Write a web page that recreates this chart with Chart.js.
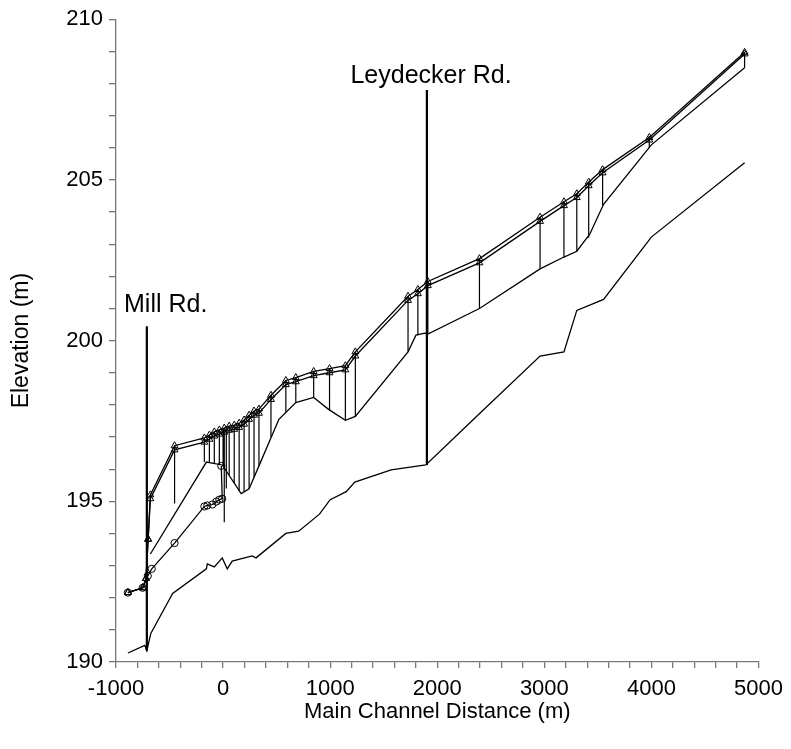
<!DOCTYPE html>
<html>
<head>
<meta charset="utf-8">
<script src="https://cdn.jsdelivr.net/npm/chart.js@4.4.1/dist/chart.umd.min.js"></script>
<style>
  html, body { margin: 0; padding: 0; background: #fff; }
  #wrap { width: 791px; height: 749px; position: relative; }
</style>
</head>
<body>
<div id="wrap"><canvas id="c" width="791" height="749"></canvas></div>
<script>
// ---- data ----
// Channel invert (thalweg)
const bedX = [-889, -731, -712, -675, -471, -156, -147, -82, -8, 39, 85, 271, 308, 586, 706, 900, 1000, 1150, 1230, 1569, 1893, 2376, 2960, 3183, 3303, 3553, 3999, 4870];
const bedY = [190.28, 190.52, 190.35, 190.89, 192.13, 192.9, 193.05, 192.96, 193.24, 192.9, 193.14, 193.3, 193.24, 194.0, 194.07, 194.6, 195.05, 195.3, 195.6, 195.98, 196.13, 197.67, 199.52, 199.65, 200.94, 201.28, 203.22, 205.53];

// Middle line (bank)
const bankX = [-679, -156, -8, 169, 243, 363, 521, 679, 846, 985, 1142, 1235, 1727, 1801, 1884, 1912, 2394, 2960, 3183, 3303, 3424, 3553, 3999, 4870];
const bankY = [193.36, 196.22, 196.13, 195.24, 195.39, 196.32, 197.55, 198.07, 198.23, 197.86, 197.52, 197.64, 199.65, 200.17, 200.23, 200.2, 201.0, 202.23, 202.6, 202.78, 203.31, 204.24, 206.09, 208.49];

// Water surface profiles (triangles)
const wsX = [-889, -750, -720, -700, -679, -453, -175, -128, -82, -35, 11, 57, 104, 150, 196, 243, 289, 335, 447, 586, 679, 846, 994, 1142, 1235, 1727, 1819, 1912, 2394, 2960, 3183, 3303, 3414, 3544, 3980, 4870];
const wsA = [192.16, 192.31, 192.6, 193.82, 195.08, 196.6, 196.84, 196.93, 197.03, 197.09, 197.15, 197.21, 197.24, 197.3, 197.4, 197.55, 197.68, 197.74, 198.17, 198.63, 198.72, 198.91, 199.0, 199.09, 199.52, 201.25, 201.46, 201.71, 202.42, 203.71, 204.2, 204.45, 204.82, 205.22, 206.24, 208.92];
const wsB = [192.16, 192.31, 192.6, 193.82, 195.2, 196.73, 196.97, 197.06, 197.16, 197.22, 197.28, 197.34, 197.37, 197.43, 197.53, 197.68, 197.81, 197.87, 198.3, 198.76, 198.85, 199.04, 199.13, 199.22, 199.65, 201.38, 201.59, 201.84, 202.55, 203.84, 204.32, 204.57, 204.93, 205.32, 206.32, 208.97];

// Low-flow water surface (circles)
const lowX = [-889, -750, -703, -666, -453, -175, -147, -100, -63, -35, -8, -17];
const lowY = [192.16, 192.31, 192.68, 192.9, 193.7, 194.84, 194.87, 194.9, 194.99, 195.05, 195.08, 196.1];

// Cross-section verticals: station, top, bottom
const secX   = [-453, -175, -128, -82, -35, 0, 11, 30, 57, 104, 150, 196, 243, 289, 335, 447, 586, 679, 846, 994, 1142, 1235, 1727, 1819, 1912, 2394, 2960, 3183, 3303, 3414, 3544, 3980, 4870];
const secTop = [196.73, 196.97, 197.06, 197.16, 197.22, 197.25, 197.28, 197.3, 197.34, 197.37, 197.43, 197.53, 197.68, 197.81, 197.87, 198.3, 198.76, 198.85, 199.04, 199.13, 199.22, 199.65, 201.38, 201.59, 201.84, 202.55, 203.84, 204.32, 204.57, 204.93, 205.32, 206.32, 208.97];
const secBot = [194.93, 196.22, 196.2, 196.18, 196.15, 196.1, 194.35, 195.4, 195.8, 195.57, 195.33, 195.28, 195.39, 195.75, 196.1, 197.0, 197.78, 198.07, 198.23, 197.84, 197.52, 197.64, 199.65, 200.17, 200.2, 201.0, 202.23, 202.6, 202.78, 203.2, 204.2, 206.0, 208.49];

// Bridges
const bridgeNames = ['Mill Rd.', 'Leydecker Rd.'];
const bridgeX = [-712, 1903];
const bridgeTop = [200.45, 207.8];
const bridgeBot = [190.35, 196.13];
const bridgeLabelX = [-925, 1189];
const bridgeLabelY = [201.09, 208.24];

// Axis ticks
const xMin = -1000, xMax = 5000, xStep = 200, xMajor = 1000;
const yMin = 190, yMax = 210, yStep = 1, yMajor = 5;

// ---- build datasets ----
const pts = (xs, ys) => xs.map((x, i) => ({x: x, y: ys[i]}));
const vertPts = [];
secX.forEach((x, i) => {
  vertPts.push({x: x, y: secTop[i]});
  vertPts.push({x: x, y: secBot[i]});
  vertPts.push({x: x, y: null});
});
const bridgeSets = bridgeX.map((x, i) => ({
  data: [{x: x, y: bridgeTop[i]}, {x: x, y: bridgeBot[i]}],
  borderColor: '#000', borderWidth: 2.2, pointRadius: 0, showLine: true
}));

const FONT = 'Liberation Sans, Arial, sans-serif';

const labelPlugin = {
  id: 'bridgeLabels',
  afterDatasetsDraw(chart) {
    const {ctx, scales: {x, y}} = chart;
    ctx.save();
    ctx.fillStyle = '#000';
    ctx.font = '25px ' + FONT;
    ctx.textAlign = 'left';
    ctx.textBaseline = 'middle';
    bridgeNames.forEach((n, i) => {
      ctx.fillText(n, x.getPixelForValue(bridgeLabelX[i]), y.getPixelForValue(bridgeLabelY[i]));
    });
    ctx.restore();
  }
};

new Chart(document.getElementById('c'), {
  type: 'scatter',
  data: {
    datasets: [
      { data: pts(bedX, bedY), borderColor: '#000', borderWidth: 1.3, pointRadius: 0, showLine: true },
      { data: pts(bankX, bankY), borderColor: '#000', borderWidth: 1.3, pointRadius: 0, showLine: true },
      { data: vertPts, borderColor: '#000', borderWidth: 1.2, pointRadius: 0, showLine: true, spanGaps: false },
      { data: pts(lowX, lowY), borderColor: '#000', borderWidth: 1.3, pointRadius: 3.6, pointStyle: 'circle',
        pointBackgroundColor: 'rgba(255,255,255,0)', pointBorderColor: '#000', pointBorderWidth: 1, showLine: true },
      { data: pts(wsX, wsA), borderColor: '#000', borderWidth: 1.3, pointRadius: 4, pointStyle: 'triangle',
        pointBackgroundColor: 'rgba(255,255,255,0)', pointBorderColor: '#000', pointBorderWidth: 1, showLine: true },
      { data: pts(wsX, wsB), borderColor: '#000', borderWidth: 1.3, pointRadius: 4, pointStyle: 'triangle',
        pointBackgroundColor: 'rgba(255,255,255,0)', pointBorderColor: '#000', pointBorderWidth: 1, showLine: true },
      ...bridgeSets
    ]
  },
  options: {
    responsive: false,
    animation: false,
    events: [],
    layout: { padding: { left: 0, right: 28, top: 13, bottom: 0 } },
    plugins: { legend: { display: false }, tooltip: { enabled: false } },
    elements: { line: { tension: 0 } },
    scales: {
      x: {
        type: 'linear', min: xMin, max: xMax,
        border: { display: true, color: '#777', width: 1.3 },
        grid: { display: true, drawOnChartArea: false, drawTicks: true, tickLength: 6, color: '#777', tickColor: '#777', lineWidth: 1.3 },
        ticks: { stepSize: xStep, autoSkip: false, maxRotation: 0, padding: 8, color: '#000',
                 font: { family: FONT, size: 22 },
                 callback: v => (v % xMajor === 0 ? String(v) : '') },
        title: { display: true, text: 'Main Channel Distance (m)', color: '#000',
                 font: { family: FONT, size: 22 }, padding: { top: 0, bottom: 24 } },
        afterFit: s => { s.height = 87; }
      },
      y: {
        type: 'linear', min: yMin, max: yMax,
        border: { display: true, color: '#777', width: 1.3 },
        grid: { display: true, drawOnChartArea: false, drawTicks: true, tickLength: 7, color: '#777', tickColor: '#777', lineWidth: 1.3 },
        ticks: { stepSize: yStep, autoSkip: false, padding: 6, color: '#000',
                 font: { family: FONT, size: 22 },
                 callback: v => (v % yMajor === 0 ? String(v) : '') },
        title: { display: true, text: 'Elevation (m)', color: '#000',
                 font: { family: FONT, size: 23 }, padding: { top: 8, bottom: 0 } },
        afterFit: s => { s.width = 116; }
      }
    }
  },
  plugins: [labelPlugin]
});
</script>
</body>
</html>
